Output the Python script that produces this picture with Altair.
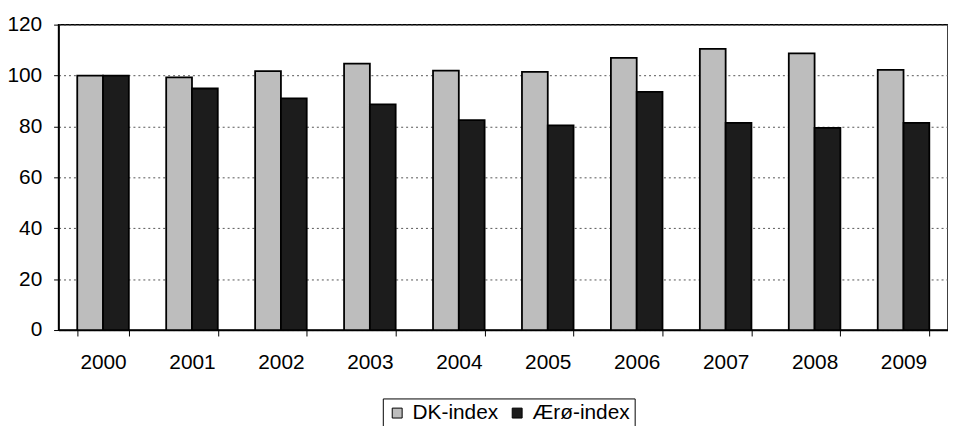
import altair as alt
import pandas as pd

years = ["2000", "2001", "2002", "2003", "2004", "2005", "2006", "2007", "2008", "2009"]
dk_index = [100, 99.3, 101.7, 104.7, 101.9, 101.4, 106.9, 110.5, 108.7, 102.2]
aero_index = [100, 94.9, 91.0, 88.7, 82.5, 80.4, 93.6, 81.4, 79.4, 81.4]
series = ["DK-index", "Ærø-index"]

rows = []
for y, a, b in zip(years, dk_index, aero_index):
    rows.append({"year": y, "series": series[0], "value": a})
    rows.append({"year": y, "series": series[1], "value": b})
df = pd.DataFrame(rows)

FONT = "Liberation Sans"

chart = alt.Chart(df).mark_bar(stroke="black", strokeWidth=1.8).encode(
    x=alt.X("year:N", sort=years, title=None,
            scale=alt.Scale(paddingInner=0.42, paddingOuter=0.21),
            axis=alt.Axis(labelAngle=0, tickBand="extent", domainColor="black",
                          tickColor="black", tickSize=6, labelPadding=16,
                          labelFontSize=21, labelColor="black", labelFont=FONT)),
    xOffset=alt.XOffset("series:N", sort=series),
    y=alt.Y("value:Q", title=None,
            scale=alt.Scale(domain=[0, 120], nice=False),
            axis=alt.Axis(values=[0, 20, 40, 60, 80, 100, 120], grid=True,
                          gridColor="#555", gridDash=[2, 3], gridWidth=1,
                          domainColor="black", tickColor="black", tickSize=5,
                          labelPadding=12, labelFontSize=21, labelColor="black",
                          labelFont=FONT)),
    color=alt.Color("series:N", sort=series,
                    scale=alt.Scale(domain=series, range=["#bdbdbd", "#1c1c1c"]),
                    legend=alt.Legend(title=None, orient="none", legendX=327, legendY=377,
                                      direction="horizontal", symbolType="square",
                                      symbolSize=100, symbolStrokeColor="black",
                                      symbolStrokeWidth=1, labelFontSize=21,
                                      labelFont=FONT, labelColor="black",
                                      strokeColor="black", padding=4,
                                      columnPadding=8, labelOffset=5)),
).properties(
    width=897, height=308,
    autosize=alt.AutoSizeParams(type="none"),
    padding={"left": 51, "top": 15, "right": 0, "bottom": 95},
).configure_view(stroke="black", strokeWidth=1.5).configure_axis(domainWidth=1.5)

chart.save("out.html", embed_options={"renderer": "svg", "actions": False})
